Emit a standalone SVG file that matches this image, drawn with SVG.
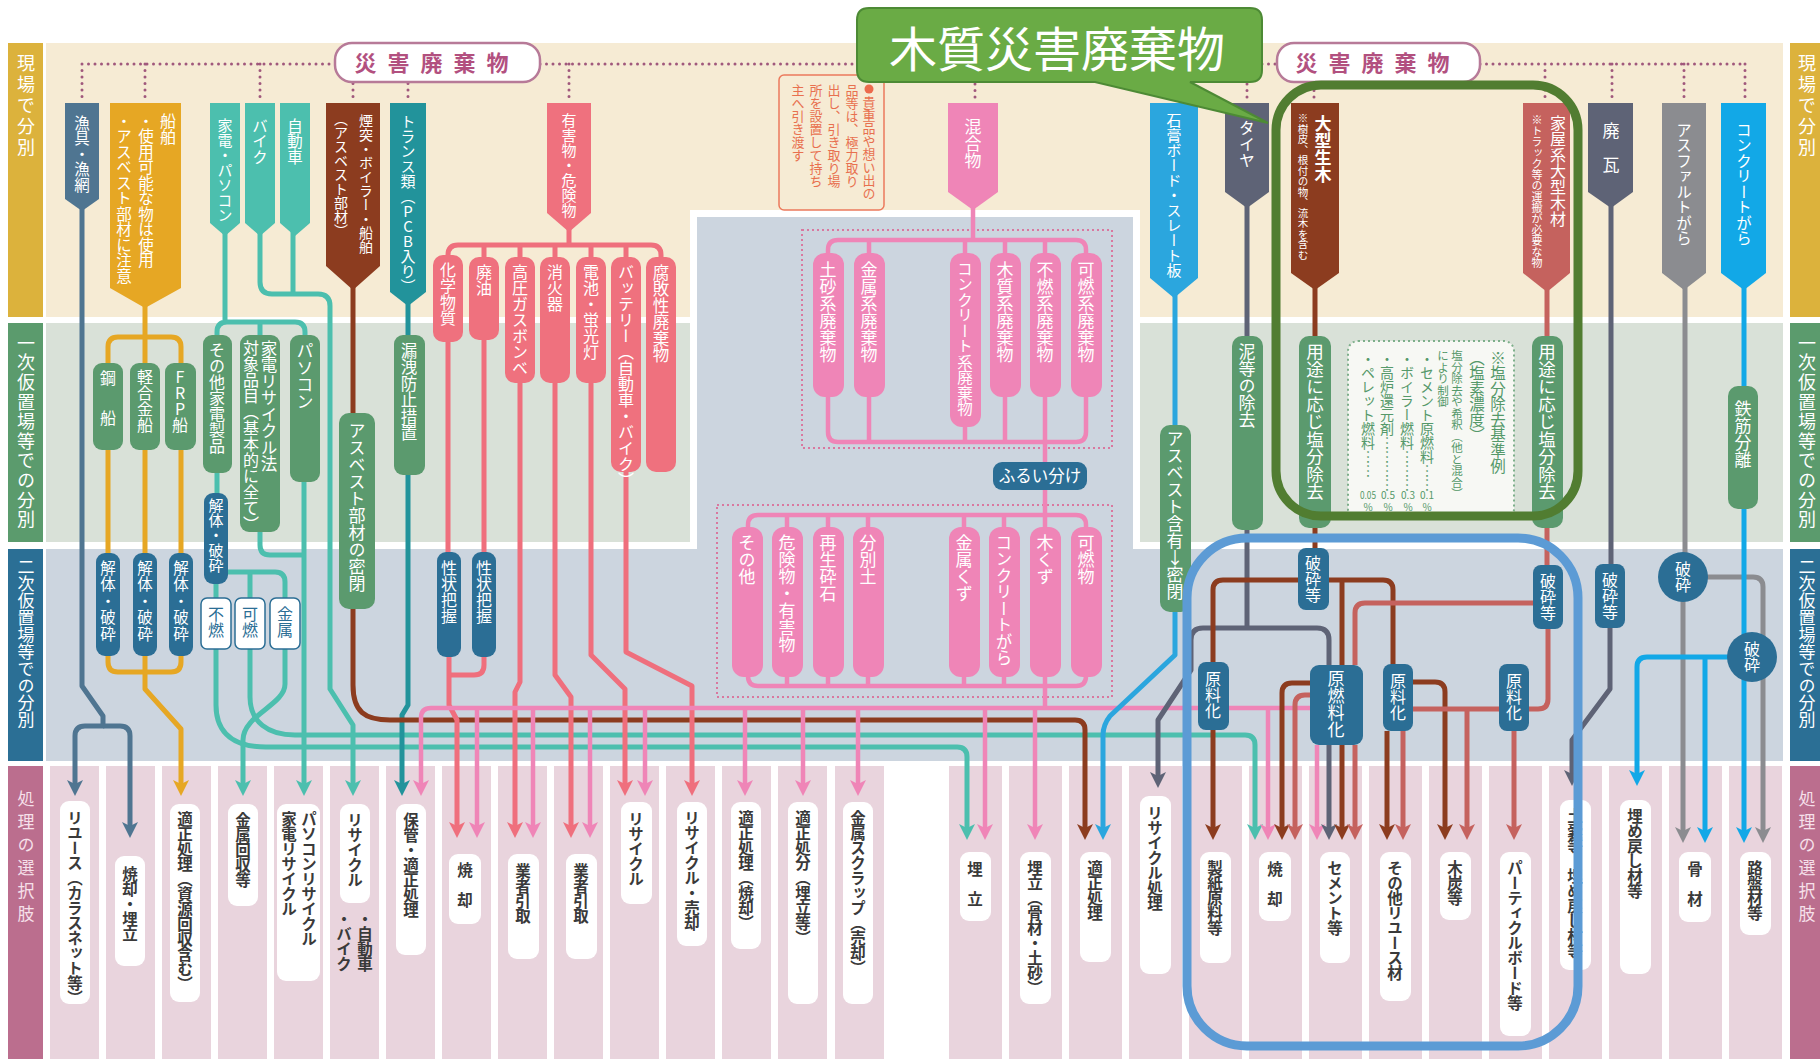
<svg xmlns="http://www.w3.org/2000/svg" width="1820" height="1059" viewBox="0 0 1820 1059">
<style>
text{font-family:"Noto Sans CJK JP","Noto Sans CJK SC",sans-serif}
.v{writing-mode:vertical-rl;text-orientation:upright}
.w{fill:#fff}
.k{fill:#3a3a3a;font-weight:bold;font-size:15.5px;letter-spacing:-0.5px}
.ln{fill:none;stroke-width:5;stroke-linejoin:round}
.dot{fill:none;stroke:#a0587c;stroke-width:3;stroke-dasharray:0 6.5;stroke-linecap:round}
.lb{fill:#fff}
.cF{stroke:#4f7591}.cG{stroke:#e6a724}.cT{stroke:#4cbfae}.cTT{stroke:#22939b}.cB{stroke:#8c3c1f}.cR{stroke:#ef6f7d}.cP{stroke:#ef85b7;stroke-width:4.5}.cGB{stroke:#2ba6de}.cS{stroke:#5e6376}.cRB{stroke:#c5625e}.cGR{stroke:#8b8c90}.cCB{stroke:#12a8e7}
.fF{fill:#4f7591}.fG{fill:#e6a724}.fT{fill:#4cbfae}.fTT{fill:#22939b}.fB{fill:#8c3c1f}.fR{fill:#ef717e}.fP{fill:#ef85b7}.fGB{fill:#2ba6de}.fS{fill:#5e6376}.fRB{fill:#c5625e}.fGR{fill:#8b8c90}.fCB{fill:#12a8e7}.fGn{fill:#5b9a6e}.fDB{fill:#2b6e95}
.ob{fill:#fff;stroke:#2b6e95;stroke-width:1.5}
.dbox{fill:none;stroke:#d9789f;stroke-width:2;stroke-dasharray:2 3}
</style>
<defs>
<marker id="mF" markerUnits="userSpaceOnUse" markerWidth="18" markerHeight="18" viewBox="0 -9 18 18" refX="4" refY="0" orient="auto"><path d="M0,-8 L16,0 L0,8 L4,0Z" fill="#4f7591"/></marker>
<marker id="mG" markerUnits="userSpaceOnUse" markerWidth="18" markerHeight="18" viewBox="0 -9 18 18" refX="4" refY="0" orient="auto"><path d="M0,-8 L16,0 L0,8 L4,0Z" fill="#e6a724"/></marker>
<marker id="mT" markerUnits="userSpaceOnUse" markerWidth="18" markerHeight="18" viewBox="0 -9 18 18" refX="4" refY="0" orient="auto"><path d="M0,-8 L16,0 L0,8 L4,0Z" fill="#4cbfae"/></marker>
<marker id="mTT" markerUnits="userSpaceOnUse" markerWidth="18" markerHeight="18" viewBox="0 -9 18 18" refX="4" refY="0" orient="auto"><path d="M0,-8 L16,0 L0,8 L4,0Z" fill="#22939b"/></marker>
<marker id="mB" markerUnits="userSpaceOnUse" markerWidth="18" markerHeight="18" viewBox="0 -9 18 18" refX="4" refY="0" orient="auto"><path d="M0,-8 L16,0 L0,8 L4,0Z" fill="#8c3c1f"/></marker>
<marker id="mR" markerUnits="userSpaceOnUse" markerWidth="18" markerHeight="18" viewBox="0 -9 18 18" refX="4" refY="0" orient="auto"><path d="M0,-8 L16,0 L0,8 L4,0Z" fill="#ef6f7d"/></marker>
<marker id="mP" markerUnits="userSpaceOnUse" markerWidth="18" markerHeight="18" viewBox="0 -9 18 18" refX="4" refY="0" orient="auto"><path d="M0,-8 L16,0 L0,8 L4,0Z" fill="#ef85b7"/></marker>
<marker id="mGB" markerUnits="userSpaceOnUse" markerWidth="18" markerHeight="18" viewBox="0 -9 18 18" refX="4" refY="0" orient="auto"><path d="M0,-8 L16,0 L0,8 L4,0Z" fill="#2ba6de"/></marker>
<marker id="mS" markerUnits="userSpaceOnUse" markerWidth="18" markerHeight="18" viewBox="0 -9 18 18" refX="4" refY="0" orient="auto"><path d="M0,-8 L16,0 L0,8 L4,0Z" fill="#5e6376"/></marker>
<marker id="mRB" markerUnits="userSpaceOnUse" markerWidth="18" markerHeight="18" viewBox="0 -9 18 18" refX="4" refY="0" orient="auto"><path d="M0,-8 L16,0 L0,8 L4,0Z" fill="#c5625e"/></marker>
<marker id="mGR" markerUnits="userSpaceOnUse" markerWidth="18" markerHeight="18" viewBox="0 -9 18 18" refX="4" refY="0" orient="auto"><path d="M0,-8 L16,0 L0,8 L4,0Z" fill="#8b8c90"/></marker>
<marker id="mCB" markerUnits="userSpaceOnUse" markerWidth="18" markerHeight="18" viewBox="0 -9 18 18" refX="4" refY="0" orient="auto"><path d="M0,-8 L16,0 L0,8 L4,0Z" fill="#12a8e7"/></marker>
</defs>

<g id="background">
<rect x="0" y="0" width="1820" height="1059" fill="#fff"/>
<rect x="46" y="43" width="1737" height="274" fill="#f6ebd4"/>
<rect x="46" y="323" width="1737" height="219" fill="#d9e1d8"/>
<rect x="46" y="549" width="1737" height="212" fill="#ccd5df"/>
<rect x="690" y="210" width="450" height="339" fill="#fff"/>
<rect x="697" y="217" width="436" height="344" fill="#ccd5df"/>
<g fill="#e9d4dd">
<rect x="50" y="766" width="49" height="293"/><rect x="106" y="766" width="49" height="293"/><rect x="162" y="766" width="49" height="293"/><rect x="218" y="766" width="49" height="293"/><rect x="274" y="766" width="49" height="293"/><rect x="330" y="766" width="49" height="293"/><rect x="386" y="766" width="49" height="293"/><rect x="442" y="766" width="49" height="293"/><rect x="498" y="766" width="49" height="293"/><rect x="554" y="766" width="49" height="293"/><rect x="610" y="766" width="49" height="293"/><rect x="666" y="766" width="49" height="293"/><rect x="722" y="766" width="49" height="293"/><rect x="778" y="766" width="49" height="293"/><rect x="835" y="766" width="49" height="293"/>
<rect x="949" y="766" width="53" height="293"/><rect x="1009" y="766" width="53" height="293"/><rect x="1069" y="766" width="53" height="293"/><rect x="1129" y="766" width="53" height="293"/><rect x="1189" y="766" width="53" height="293"/><rect x="1249" y="766" width="53" height="293"/><rect x="1309" y="766" width="53" height="293"/><rect x="1369" y="766" width="53" height="293"/><rect x="1429" y="766" width="53" height="293"/><rect x="1489" y="766" width="53" height="293"/><rect x="1549" y="766" width="53" height="293"/><rect x="1609" y="766" width="53" height="293"/><rect x="1669" y="766" width="53" height="293"/><rect x="1729" y="766" width="53" height="293"/>
</g>
<rect x="717" y="505" width="395" height="192" class="dbox"/>
<rect x="802" y="230" width="310" height="218" class="dbox"/>
</g>

<g id="row-labels">
<rect x="8" y="43" width="35" height="274" fill="#dcb23c"/>
<rect x="8" y="323" width="35" height="219" fill="#5b9b6d"/>
<rect x="8" y="549" width="35" height="212" fill="#2b6f95"/>
<rect x="8" y="766" width="35" height="293" fill="#bb6e8e"/>
<rect x="1790" y="43" width="35" height="274" fill="#dcb23c"/>
<rect x="1790" y="323" width="35" height="219" fill="#5b9b6d"/>
<rect x="1790" y="549" width="35" height="212" fill="#2b6f95"/>
<rect x="1790" y="766" width="35" height="293" fill="#bb6e8e"/>
<text class="v w" x="26" y="54" font-size="18" letter-spacing="3">現場で分別</text>
<text class="v w" x="26" y="334" font-size="18" letter-spacing="1.6">一次仮置場等での分別</text>
<text class="v w" x="26" y="558" font-size="17">二次仮置場等での分別</text>
<text class="v" x="26" y="790" font-size="17" letter-spacing="6" fill="#f6e0ea">処理の選択肢</text>
<text class="v w" x="1807" y="54" font-size="18" letter-spacing="3">現場で分別</text>
<text class="v w" x="1807" y="334" font-size="18" letter-spacing="1.6">一次仮置場等での分別</text>
<text class="v w" x="1807" y="558" font-size="17">二次仮置場等での分別</text>
<text class="v" x="1807" y="790" font-size="17" letter-spacing="6" fill="#f6e0ea">処理の選択肢</text>
</g>

<g id="connectors">
<g id="dotted">
<path class="dot" d="M82,64 H335 M82,64 V103 M145,64 V103 M260,64 V103 M353,64 V103 M408,64 V103 M540,64 H857 M569,64 V103 M975,84 V103 M1247,84 V103 M1314,84 V103 M1262,64 H1277 M1480,64 H1745 M1545,64 V103 M1612,64 V103 M1684,64 V103 M1745,64 V103"/>
</g>
<path class="ln cF" d="M82,205 V686 L103,716 V726 H85 Q75,726 75,736 V784" marker-end="url(#mF)"/>
<path class="ln cF" d="M103,726 H120 Q130,726 130,736 V826" marker-end="url(#mF)"/>

<path class="ln cG" d="M145,300 V363 M108,363 V347 Q108,337 118,337 H171 Q181,337 181,347 V363 M108,450 V553 M145,450 V553 M181,450 V553 M108,656 V662 Q108,672 118,672 H171 Q181,672 181,662 V656"/>
<path class="ln cG" d="M145,656 V689 L181,729 V784" marker-end="url(#mG)"/>

<path class="ln cT" d="M225,230 V322 M217,335 V332 Q217,322 227,322 H295 Q305,322 305,332 V335 M260,322 V335 M217,473 V493 M216,584 V598 M228,572 H275 Q285,572 285,582 V598 M250,572 V598 M260,532 V545 Q260,555 270,555 H304 M293,230 V294"/>
<path class="ln cT" d="M304,482 V784" marker-end="url(#mT)"/>
<path class="ln cT" d="M216,649 V705 C216,735 236,747 266,747 H957 Q967,747 967,757 V828" marker-end="url(#mT)"/>
<path class="ln cT" d="M250,649 V697 C250,722 268,735 295,735 H1245 Q1255,735 1255,745 V828" marker-end="url(#mT)"/>
<path class="ln cT" d="M285,649 V684 C285,705 243,715 243,740 V784" marker-end="url(#mT)"/>
<path class="ln cT" d="M260,230 V282 Q260,294 272,294 H318 Q330,294 330,306 V689 L353,725 V784" marker-end="url(#mT)"/>

<path class="ln cTT" d="M408,300 V335"/>
<path class="ln cTT" d="M408,475 V705 L402,715 V784" marker-end="url(#mTT)"/>

<path class="ln cB" d="M353,285 V413"/>
<path class="ln cB" d="M353,607 V685 C353,712 365,720 390,720 H1075 Q1085,720 1085,730 V828" marker-end="url(#mB)"/>

<path class="ln cR" d="M569,228 V245 M448,257 V255 Q448,245 458,245 H651 Q661,245 661,255 V257 M484,245 V257 M520,245 V257 M555,245 V257 M591,245 V257 M626,245 V257 M448,342 V552 M484,340 V552 M484,657 V665 Q484,675 474,675 H449"/>
<path class="ln cR" d="M449,657 V705 L457,720 V826" marker-end="url(#mR)"/>
<path class="ln cR" d="M520,383 V682 L515,692 V826" marker-end="url(#mR)"/>
<path class="ln cR" d="M555,383 V675 L571,697 V826" marker-end="url(#mR)"/>
<path class="ln cR" d="M591,383 V655 L625,689 V784" marker-end="url(#mR)"/>
<path class="ln cR" d="M626,472 V652 L692,686 V784" marker-end="url(#mR)"/>

<path class="ln cP" d="M973,205 V240 M828,253 V250 Q828,240 838,240 H1076 Q1086,240 1086,250 V253 M869,240 V253 M965,240 V253 M1005,240 V253 M1045,240 V253 M828,397 V432 Q828,442 838,442 H1076 Q1086,442 1086,432 V397 M869,397 V442 M965,427 V442 M1005,397 V442 M1045,397 V708 M748,527 V525 Q748,515 758,515 H1076 Q1086,515 1086,525 V527 M787,515 V527 M828,515 V527 M868,515 V527 M964,515 V527 M1004,515 V527 M748,677 V676 Q748,686 758,686 H1076 Q1086,686 1086,676 V677 M787,677 V686 M828,677 V686 M868,677 V686 M964,677 V686 M1004,677 V686"/>
<path class="ln cP" d="M1310,708 H431 Q421,708 421,718 V784" marker-end="url(#mP)"/>
<path class="ln cP" d="M477,708 V826" marker-end="url(#mP)"/>
<path class="ln cP" d="M533,708 V826" marker-end="url(#mP)"/>
<path class="ln cP" d="M590,708 V826" marker-end="url(#mP)"/>
<path class="ln cP" d="M645,708 V784" marker-end="url(#mP)"/>
<path class="ln cP" d="M745,708 V784" marker-end="url(#mP)"/>
<path class="ln cP" d="M803,708 V784" marker-end="url(#mP)"/>
<path class="ln cP" d="M858,708 V784" marker-end="url(#mP)"/>
<path class="ln cP" d="M985,708 V828" marker-end="url(#mP)"/>
<path class="ln cP" d="M1035,708 V828" marker-end="url(#mP)"/>
<path class="ln cP" d="M1268,708 V828" marker-end="url(#mP)"/>
<path class="ln cP" d="M1317,745 V828" marker-end="url(#mP)"/>

<path class="ln cGB" d="M1175,290 V425"/>
<path class="ln cGB" d="M1175,612 V655 L1110,716 Q1103,725 1103,735 V828" marker-end="url(#mGB)"/>

<path class="ln cS" d="M1247,205 V336 M1247,530 V628 M1247,628 H1317 Q1329,628 1329,640 V665 M1611,205 V564"/>
<path class="ln cS" d="M1247,628 H1203 Q1191,628 1191,640 V670 L1158,720 V776" marker-end="url(#mS)"/>
<path class="ln cS" d="M1329,745 V828" marker-end="url(#mS)"/>
<path class="ln cS" d="M1610,628 V689 L1572,740 V774" marker-end="url(#mS)"/>

<path class="ln cB" d="M1315,280 V336 M1315,528 V548 M1213,662 V590 Q1213,580 1223,580 H1383 Q1393,580 1393,590 V664 M1342,580 V665"/>
<path class="ln cB" d="M1213,730 V828" marker-end="url(#mB)"/>
<path class="ln cB" d="M1342,745 V828" marker-end="url(#mB)"/>
<path class="ln cB" d="M1310,683 H1292 Q1282,683 1282,693 V828" marker-end="url(#mB)"/>
<path class="ln cB" d="M1387,731 V828" marker-end="url(#mB)"/>
<path class="ln cB" d="M1413,682 H1435 Q1445,682 1445,692 V828" marker-end="url(#mB)"/>

<path class="ln cRB" d="M1547,290 V336 M1547,528 V565 M1533,603 H1365 Q1355,603 1355,613 V665 M1548,629 V699 Q1548,709 1538,709 H1413"/>
<path class="ln cRB" d="M1467,709 V828" marker-end="url(#mRB)"/>
<path class="ln cRB" d="M1514,731 V828" marker-end="url(#mRB)"/>
<path class="ln cRB" d="M1403,731 V828" marker-end="url(#mRB)"/>
<path class="ln cRB" d="M1355,745 V828" marker-end="url(#mRB)"/>
<path class="ln cRB" d="M1310,695 H1305 Q1295,695 1295,705 V828" marker-end="url(#mRB)"/>

<path class="ln cGR" d="M1685,285 V553"/>
<path class="ln cGR" d="M1683,601 V831" marker-end="url(#mGR)"/>
<path class="ln cGR" d="M1707,577 H1753 Q1763,577 1763,587 V831" marker-end="url(#mGR)"/>

<path class="ln cCB" d="M1744,285 V386"/>
<path class="ln cCB" d="M1744,509 V831" marker-end="url(#mCB)"/>
<path class="ln cCB" d="M1728,657 H1647 Q1637,657 1637,667 V774" marker-end="url(#mCB)"/>
<path class="ln cCB" d="M1705,657 V831" marker-end="url(#mCB)"/>
</g>

<g id="nodes">
<g id="label-saigai-1"><rect x="335" y="43" width="205" height="39" rx="17" fill="#fff" stroke="#b77a98" stroke-width="2.5"/><text x="437" y="71" font-size="22" font-weight="bold" fill="#b2507f" text-anchor="middle" letter-spacing="11">災害廃棄物</text></g>
<g id="label-saigai-2"><rect x="1277" y="43" width="203" height="39" rx="17" fill="#fff" stroke="#b77a98" stroke-width="2.5"/><text x="1378" y="71" font-size="22" font-weight="bold" fill="#b2507f" text-anchor="middle" letter-spacing="11">災害廃棄物</text></g>

<g id="n-gyogu"><polygon class="fF" points="65,103 99,103 99,199 82,211 65,199"/><text class="v w" x="82" y="115" font-size="15.5">漁具・漁網</text></g>
<g id="n-senpaku"><polygon class="fG" points="110,103 181,103 181,288 145,308 110,288"/><text class="v w" x="168" y="113" font-size="16">船舶</text><text class="v w" x="146" y="113" font-size="15.5">・使用可能な物は使用</text><text class="v w" x="124" y="113" font-size="15.5">・アスベスト部材に注意</text></g>
<g id="n-kaden"><polygon class="fT" points="210,103 240,103 240,223 225,236 210,223"/><text class="v w" x="225" y="118" font-size="15">家電・パソコン</text></g>
<g id="n-bike"><polygon class="fT" points="245,103 275,103 275,223 260,236 245,223"/><text class="v w" x="260" y="118" font-size="15.5">バイク</text></g>
<g id="n-car"><polygon class="fT" points="280,103 310,103 310,223 295,236 280,223"/><text class="v w" x="295" y="118" font-size="15.5">自動車</text></g>
<g id="n-entotsu"><polygon class="fB" points="326,103 380,103 380,266 353,290 326,266"/><text class="v w" x="366" y="114" font-size="14">煙突・ボイラー・船舶</text><text class="v w" x="341" y="112" font-size="14">（アスベスト部材）</text></g>
<g id="n-trans"><polygon class="fTT" points="390,103 426,103 426,292 408,306 390,292"/><text class="v w" x="408" y="114" font-size="15">トランス類（PCB入り）</text></g>
<g id="n-yugai"><polygon class="fR" points="547,103 591,103 591,213 569,232 547,213"/><text class="v w" x="569" y="113" font-size="15">有害物・危険物</text></g>
<g id="n-kongo"><polygon class="fP" points="948,103 998,103 998,192 973,210 948,192"/><text class="v w" x="973" y="118" font-size="17">混合物</text></g>
<g id="n-sekko"><polygon class="fGB" points="1150,103 1198,103 1198,278 1174,298 1150,278"/><text class="v w" x="1174" y="113" font-size="15">石膏ボード・スレート板</text></g>
<g id="n-taiya"><polygon class="fS" points="1225,103 1269,103 1269,192 1247,208 1225,192"/><text class="v w" x="1247" y="120" font-size="16">タイヤ</text></g>
<g id="n-ogata"><polygon class="fB" points="1291,103 1339,103 1339,273 1315,290 1291,273"/><text class="v w" x="1323" y="115" font-size="17" font-weight="bold">大型生木</text><text class="v w" x="1303" y="113" font-size="10.5">※樹皮、根付の物、流木を含む</text></g>
<g id="n-kaoku"><polygon class="fRB" points="1523,103 1570,103 1570,273 1547,292 1523,273"/><text class="v w" x="1558" y="115" font-size="16">家屋系大型木材</text><text class="v w" x="1537" y="114" font-size="11">※トラック等の運搬が必要な物</text></g>
<g id="n-kawara"><polygon class="fS" points="1588,103 1633,103 1633,192 1611,208 1588,192"/><text class="v w" x="1611" y="122" font-size="17">廃　瓦</text></g>
<g id="n-asphalt"><polygon class="fGR" points="1662,103 1706,103 1706,273 1684,290 1662,273"/><text class="v w" x="1684" y="122" font-size="15.5">アスファルトがら</text></g>
<g id="n-concrete"><polygon class="fCB" points="1721,103 1766,103 1766,273 1744,290 1721,273"/><text class="v w" x="1744" y="122" font-size="15.5">コンクリートがら</text></g>

<g id="n-note-kichohin"><rect x="779" y="75" width="105" height="135" rx="5" fill="none" stroke="#ec7a5c" stroke-width="1.5"/><circle cx="869" cy="89" r="4.5" fill="#ec6a4c"/><text class="v" x="869" y="96" font-size="13" fill="#e8704f">貴重品や想い出の</text><text class="v" x="852" y="84" font-size="13" fill="#e8704f">品等は、極力取り</text><text class="v" x="834" y="84" font-size="13" fill="#e8704f">出し、引き取り場</text><text class="v" x="816" y="84" font-size="13" fill="#e8704f">所を設置して持ち</text><text class="v" x="798" y="84" font-size="13" fill="#e8704f">主へ引き渡す</text></g>

<g id="n-kosen"><rect class="fGn" x="93" y="363" width="30" height="87" rx="9"/><text class="v w" x="108" y="370" font-size="16" letter-spacing="4">鋼　船</text></g>
<g id="n-keigokin"><rect class="fGn" x="130" y="363" width="30" height="87" rx="9"/><text class="v w" x="145" y="369" font-size="16">軽合金船</text></g>
<g id="n-frp"><rect class="fGn" x="165" y="363" width="31" height="87" rx="9"/><text class="v w" x="180" y="369" font-size="16">FRP船</text></g>
<g id="n-sonota-kaden"><rect class="fGn" x="203" y="335" width="29" height="138" rx="9"/><text class="v w" x="217" y="342" font-size="16">その他家電製品</text></g>
<g id="n-kaden-recycle"><rect class="fGn" x="240" y="335" width="40" height="197" rx="9"/><text class="v w" x="269" y="340" font-size="16.5">家電リサイクル法</text><text class="v w" x="251" y="340" font-size="16">対象品目（基本的に全て）</text></g>
<g id="n-pasokon"><rect class="fGn" x="290" y="335" width="30" height="147" rx="9"/><text class="v w" x="305" y="342" font-size="17">パソコン</text></g>
<g id="n-asbestos-mippei"><rect class="fGn" x="339" y="413" width="36" height="196" rx="10"/><text class="v w" x="357" y="422" font-size="17">アスベスト部材の密閉</text></g>
<g id="n-roei"><rect class="fGn" x="394" y="335" width="31" height="140" rx="9"/><text class="v w" x="409" y="342" font-size="16.5">漏洩防止措置</text></g>

<g id="n-kagaku"><rect class="fR" x="433" y="255" width="30" height="87" rx="10"/><text class="v w" x="448" y="262" font-size="16">化学物質</text></g>
<g id="n-haiyu"><rect class="fR" x="469" y="257" width="30" height="83" rx="10"/><text class="v w" x="484" y="264" font-size="16">廃油</text></g>
<g id="n-gas"><rect class="fR" x="505" y="257" width="30" height="126" rx="10"/><text class="v w" x="520" y="264" font-size="16">高圧ガスボンベ</text></g>
<g id="n-shokaki"><rect class="fR" x="540" y="257" width="30" height="126" rx="10"/><text class="v w" x="555" y="264" font-size="16">消火器</text></g>
<g id="n-denchi"><rect class="fR" x="576" y="257" width="30" height="126" rx="10"/><text class="v w" x="591" y="264" font-size="16">電池・蛍光灯</text></g>
<g id="n-battery"><rect class="fR" x="611" y="257" width="30" height="215" rx="10"/><text class="v w" x="626" y="264" font-size="16">バッテリー（自動車・バイク）</text></g>
<g id="n-fuhai"><rect class="fR" x="646" y="257" width="30" height="215" rx="10"/><text class="v w" x="661" y="264" font-size="16.5">腐敗性廃棄物</text></g>

<g id="n-dosha-kei"><rect class="fP" x="813" y="253" width="31" height="144" rx="12"/><text class="v w" x="828" y="261" font-size="17">土砂系廃棄物</text></g>
<g id="n-kinzoku-kei"><rect class="fP" x="854" y="253" width="31" height="144" rx="12"/><text class="v w" x="869" y="261" font-size="17">金属系廃棄物</text></g>
<g id="n-con-kei"><rect class="fP" x="950" y="253" width="31" height="174" rx="12"/><text class="v w" x="965" y="261" font-size="15.5">コンクリート系廃棄物</text></g>
<g id="n-mokushitsu-kei"><rect class="fP" x="990" y="253" width="31" height="144" rx="12"/><text class="v w" x="1005" y="261" font-size="17">木質系廃棄物</text></g>
<g id="n-funen-kei"><rect class="fP" x="1030" y="253" width="31" height="144" rx="12"/><text class="v w" x="1045" y="261" font-size="17">不燃系廃棄物</text></g>
<g id="n-kanen-kei"><rect class="fP" x="1071" y="253" width="31" height="144" rx="12"/><text class="v w" x="1086" y="261" font-size="17">可燃系廃棄物</text></g>
<g id="n-furui"><rect class="fDB" x="993" y="462" width="94" height="28" rx="9"/><text class="w" x="1040" y="482" font-size="16.5" text-anchor="middle">ふるい分け</text></g>

<g id="n-sonota"><rect class="fP" x="732" y="527" width="31" height="150" rx="12"/><text class="v w" x="747" y="534" font-size="17">その他</text></g>
<g id="n-kiken"><rect class="fP" x="772" y="527" width="31" height="150" rx="12"/><text class="v w" x="787" y="534" font-size="17">危険物・有害物</text></g>
<g id="n-saisei"><rect class="fP" x="813" y="527" width="31" height="150" rx="12"/><text class="v w" x="828" y="534" font-size="17">再生砕石</text></g>
<g id="n-bunbetsudo"><rect class="fP" x="853" y="527" width="31" height="150" rx="12"/><text class="v w" x="868" y="534" font-size="17">分別土</text></g>
<g id="n-kinzokukuzu"><rect class="fP" x="949" y="527" width="31" height="150" rx="12"/><text class="v w" x="964" y="534" font-size="17">金属くず</text></g>
<g id="n-congara"><rect class="fP" x="989" y="527" width="31" height="150" rx="12"/><text class="v w" x="1004" y="534" font-size="16.5">コンクリートがら</text></g>
<g id="n-mokuzu"><rect class="fP" x="1030" y="527" width="31" height="150" rx="12"/><text class="v w" x="1045" y="534" font-size="17">木くず</text></g>
<g id="n-kanenbutsu"><rect class="fP" x="1071" y="527" width="31" height="150" rx="12"/><text class="v w" x="1086" y="534" font-size="17">可燃物</text></g>

<g id="n-asb-gan"><rect class="fGn" x="1160" y="425" width="31" height="187" rx="10"/><text class="v w" x="1175" y="430" font-size="17">アスベスト含有↓密閉</text></g>
<g id="n-doro"><rect class="fGn" x="1232" y="336" width="31" height="194" rx="10"/><text class="v w" x="1247" y="343" font-size="17">泥等の除去</text></g>
<g id="n-enbun-1"><rect class="fGn" x="1299" y="336" width="32" height="192" rx="10"/><text class="v w" x="1315" y="343" font-size="17.5">用途に応じ塩分除去</text></g>
<g id="n-enbun-note"><rect x="1348" y="341" width="166" height="178" rx="10" fill="#f7f8f4" stroke="#7daf8a" stroke-width="2" stroke-dasharray="2 3"/>
<g fill="#55996a"><text class="v" x="1498" y="350" font-size="15.5">※塩分除去基準例</text><text class="v" x="1477" y="350" font-size="15.5">（塩素濃度）</text><text class="v" x="1457" y="350" font-size="11.5">塩分除去や希釈（他と混合）</text><text class="v" x="1443" y="350" font-size="11.5">により制御</text><text class="v" x="1427" y="352" font-size="14">・セメント原燃料……</text><text class="v" x="1407" y="352" font-size="14">・ボイラー燃料………</text><text class="v" x="1387" y="352" font-size="14">・高炉還元剤…………</text><text class="v" x="1368" y="352" font-size="14">・ペレット燃料……</text>
<g font-size="10" text-anchor="middle"><text x="1368" y="499" textLength="16" lengthAdjust="spacingAndGlyphs">0.05</text><text x="1388" y="499">0.5</text><text x="1408" y="499">0.3</text><text x="1427" y="499">0.1</text><text x="1368" y="511">%</text><text x="1388" y="511">%</text><text x="1408" y="511">%</text><text x="1427" y="511">%</text></g></g></g>
<g id="n-enbun-2"><rect class="fGn" x="1532" y="336" width="31" height="192" rx="10"/><text class="v w" x="1547" y="343" font-size="17.5">用途に応じ塩分除去</text></g>
<g id="n-tekkin"><rect class="fGn" x="1728" y="386" width="30" height="123" rx="10"/><text class="v w" x="1743" y="400" font-size="17">鉄筋分離</text></g>

<g id="n-kaitai-1"><rect class="fDB" x="96" y="553" width="24" height="103" rx="9"/><text class="v w" x="108" y="560" font-size="15.5" letter-spacing="1">解体・破砕</text></g>
<g id="n-kaitai-2"><rect class="fDB" x="133" y="553" width="24" height="103" rx="9"/><text class="v w" x="145" y="560" font-size="15.5" letter-spacing="1">解体・破砕</text></g>
<g id="n-kaitai-3"><rect class="fDB" x="169" y="553" width="24" height="103" rx="9"/><text class="v w" x="181" y="560" font-size="15.5" letter-spacing="1">解体・破砕</text></g>
<g id="n-kaitai-4"><rect class="fDB" x="204" y="493" width="24" height="91" rx="9"/><text class="v w" x="216" y="498" font-size="15">解体・破砕</text></g>
<g id="n-funen"><rect class="ob" x="201" y="598" width="30" height="51" rx="6"/><text class="v" x="216" y="606" font-size="16" fill="#2b6e95">不燃</text></g>
<g id="n-kanen"><rect class="ob" x="235" y="598" width="30" height="51" rx="6"/><text class="v" x="250" y="606" font-size="16" fill="#2b6e95">可燃</text></g>
<g id="n-kinzoku"><rect class="ob" x="270" y="598" width="30" height="51" rx="6"/><text class="v" x="285" y="606" font-size="16" fill="#2b6e95">金属</text></g>
<g id="n-seijo-1"><rect class="fDB" x="437" y="552" width="24" height="105" rx="9"/><text class="v w" x="449" y="560" font-size="16">性状把握</text></g>
<g id="n-seijo-2"><rect class="fDB" x="472" y="552" width="24" height="105" rx="9"/><text class="v w" x="484" y="560" font-size="16">性状把握</text></g>
<g id="n-hasai-1"><rect class="fDB" x="1298" y="548" width="31" height="62" rx="8"/><text class="v w" x="1313" y="555" font-size="16">破砕等</text></g>
<g id="n-hasai-2"><rect class="fDB" x="1533" y="565" width="30" height="64" rx="8"/><text class="v w" x="1548" y="573" font-size="16">破砕等</text></g>
<g id="n-hasai-3"><rect class="fDB" x="1595" y="564" width="30" height="64" rx="8"/><text class="v w" x="1610" y="572" font-size="16">破砕等</text></g>
<g id="n-genryo-1"><rect class="fDB" x="1198" y="662" width="31" height="68" rx="8"/><text class="v w" x="1213" y="671" font-size="16">原料化</text></g>
<g id="n-gennenryo"><rect class="fDB" x="1310" y="665" width="53" height="80" rx="9"/><text class="v w" x="1336" y="670" font-size="17">原燃料化</text></g>
<g id="n-genryo-2"><rect class="fDB" x="1383" y="664" width="30" height="67" rx="8"/><text class="v w" x="1398" y="673" font-size="16">原料化</text></g>
<g id="n-genryo-3"><rect class="fDB" x="1499" y="664" width="30" height="67" rx="8"/><text class="v w" x="1514" y="673" font-size="16">原料化</text></g>
<g id="n-hasai-c1"><circle class="fDB" cx="1683" cy="577" r="25"/><text class="v w" x="1683" y="561" font-size="16">破砕</text></g>
<g id="n-hasai-c2"><circle class="fDB" cx="1752" cy="657" r="25"/><text class="v w" x="1752" y="641" font-size="16">破砕</text></g>

<g id="o-reuse"><rect class="lb" x="60" y="801" width="30" height="203" rx="9"/><text class="v k" x="75" y="810">リユース（カラスネット等）</text></g>
<g id="o-shoukyaku-umetate"><rect class="lb" x="115" y="856" width="30" height="110" rx="9"/><text class="v k" x="130" y="866">焼却・埋立</text></g>
<g id="o-tekisei-shigen"><rect class="lb" x="170" y="804" width="30" height="198" rx="9"/><text class="v k" x="185" y="811">適正処理（資源回収含む）</text></g>
<g id="o-kinzoku-kaishu"><rect class="lb" x="228" y="804" width="30" height="102" rx="9"/><text class="v k" x="243" y="812">金属回収等</text></g>
<g id="o-pc-recycle"><rect class="lb" x="277" y="804" width="43" height="177" rx="9"/><text class="v k" x="309" y="811">パソコンリサイクル</text><text class="v k" x="289" y="811">家電リサイクル</text></g>
<g id="o-recycle-1"><rect class="lb" x="340" y="804" width="30" height="99" rx="9"/><text class="v k" x="355" y="812">リサイクル</text><text class="v k" x="365" y="911">・自動車</text><text class="v k" x="344" y="911">・バイク</text></g>
<g id="o-hokan"><rect class="lb" x="396" y="804" width="30" height="151" rx="9"/><text class="v k" x="411" y="812">保管・適正処理</text></g>
<g id="o-shoukyaku-1"><rect class="lb" x="449" y="854" width="32" height="70" rx="9"/><text class="v k" x="465" y="862">焼　却</text></g>
<g id="o-gyosha-1"><rect class="lb" x="508" y="854" width="31" height="105" rx="9"/><text class="v k" x="523" y="863">業者引取</text></g>
<g id="o-gyosha-2"><rect class="lb" x="566" y="854" width="31" height="105" rx="9"/><text class="v k" x="581" y="863">業者引取</text></g>
<g id="o-recycle-2"><rect class="lb" x="621" y="802" width="31" height="102" rx="9"/><text class="v k" x="636" y="811">リサイクル</text></g>
<g id="o-recycle-baikyaku"><rect class="lb" x="677" y="802" width="30" height="144" rx="9"/><text class="v k" x="692" y="810">リサイクル・売却</text></g>
<g id="o-tekisei-shoukyaku"><rect class="lb" x="731" y="802" width="30" height="147" rx="9"/><text class="v k" x="746" y="810">適正処理（焼却）</text></g>
<g id="o-tekisei-umetate"><rect class="lb" x="788" y="802" width="30" height="202" rx="9"/><text class="v k" x="803" y="810">適正処分（埋立等）</text></g>
<g id="o-scrap"><rect class="lb" x="843" y="802" width="30" height="202" rx="9"/><text class="v k" x="858" y="810">金属スクラップ（売却）</text></g>

<g id="o-umetate"><rect class="lb" x="960" y="852" width="31" height="69" rx="9"/><text class="v k" x="975" y="861">埋　立</text></g>
<g id="o-umetate-kotsuzai"><rect class="lb" x="1020" y="852" width="31" height="152" rx="9"/><text class="v k" x="1035" y="860">埋立（骨材・土砂）</text></g>
<g id="o-tekisei"><rect class="lb" x="1080" y="852" width="31" height="110" rx="9"/><text class="v k" x="1095" y="860">適正処理</text></g>
<g id="o-recycle-shori"><rect class="lb" x="1140" y="796" width="31" height="178" rx="9"/><text class="v k" x="1155" y="805">リサイクル処理</text></g>
<g id="o-seishi"><rect class="lb" x="1200" y="852" width="31" height="111" rx="9"/><text class="v k" x="1215" y="860">製紙原料等</text></g>
<g id="o-shoukyaku-2"><rect class="lb" x="1259" y="852" width="32" height="69" rx="9"/><text class="v k" x="1275" y="861">焼　却</text></g>
<g id="o-cement"><rect class="lb" x="1320" y="852" width="30" height="111" rx="9"/><text class="v k" x="1335" y="860">セメント等</text></g>
<g id="o-sonota-reuse"><rect class="lb" x="1380" y="852" width="31" height="149" rx="9"/><text class="v k" x="1395" y="860">その他リユース材</text></g>
<g id="o-mokutan"><rect class="lb" x="1440" y="852" width="31" height="68" rx="9"/><text class="v k" x="1455" y="860">木炭等</text></g>
<g id="o-particle"><rect class="lb" x="1500" y="852" width="31" height="184" rx="9"/><text class="v k" x="1515" y="860">パーティクルボード等</text></g>
<g id="o-donou"><rect class="lb" x="1560" y="800" width="31" height="170" rx="9"/><text class="v k" x="1575" y="808">土嚢等　埋め戻し材等</text></g>
<g id="o-umemodoshi"><rect class="lb" x="1620" y="800" width="31" height="174" rx="9"/><text class="v k" x="1635" y="808">埋め戻し材等</text></g>
<g id="o-kotsuzai"><rect class="lb" x="1679" y="852" width="32" height="70" rx="9"/><text class="v k" x="1695" y="861">骨　材</text></g>
<g id="o-robanzai"><rect class="lb" x="1740" y="852" width="31" height="83" rx="9"/><text class="v k" x="1755" y="860">路盤材等</text></g>
</g>

<g id="highlights">
<rect x="1276" y="85" width="302" height="431" rx="45" fill="none" stroke="#517d31" stroke-width="9"/>
<rect x="1187" y="538" width="391" height="508" rx="60" fill="none" stroke="#5c9bd5" stroke-width="9"/>
<g id="callout"><path d="M869,8 H1250 Q1262,8 1262,20 V70 Q1262,82 1250,82 H1190 L1268,123 L1095,82 H869 Q857,82 857,70 V20 Q857,8 869,8 Z" fill="#6aab45" stroke="#4d8a35" stroke-width="2"/><text x="1057" y="67" font-size="48" fill="#fff" text-anchor="middle">木質災害廃棄物</text></g>
</g>
</svg>
